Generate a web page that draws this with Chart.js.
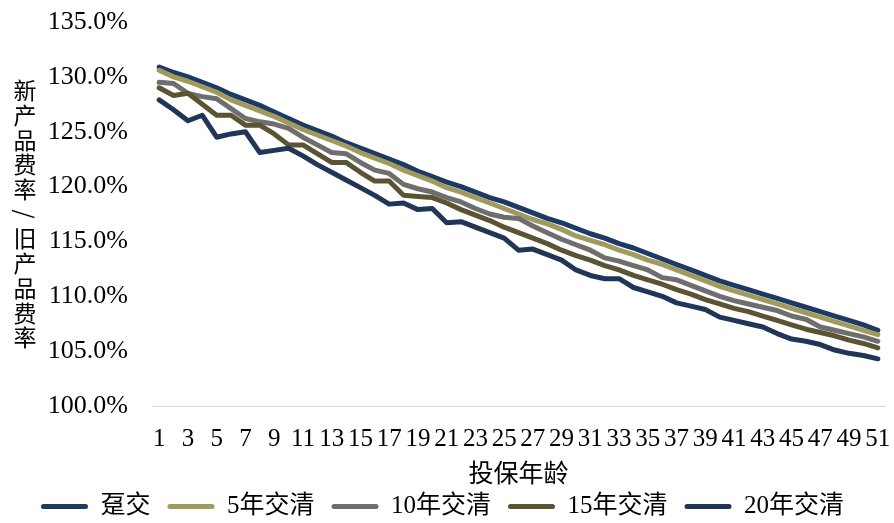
<!DOCTYPE html>
<html>
<head>
<meta charset="utf-8">
<script src="https://cdn.jsdelivr.net/npm/chart.js@4.4.1/dist/chart.umd.min.js"></script>
<style>
  html, body { margin: 0; padding: 0; background: #fff; }
</style>
</head>
<body>
<canvas id="chart" width="894" height="523"></canvas>
<script>
const ages = [1,2,3,4,5,6,7,8,9,10,11,12,13,14,15,16,17,18,19,20,21,22,23,24,25,26,27,28,29,30,
  31,32,33,34,35,36,37,38,39,40,41,42,43,44,45,46,47,48,49,50,51];

const seriesNames = ['趸交', '5年交清', '10年交清', '15年交清', '20年交清'];

const lumpSum = [130.9,130.4,130.0,129.5,129.0,128.4,127.9,127.4,126.8,126.2,
  125.6,125.1,124.6,124.0,123.5,123.0,122.5,122.0,121.4,120.9,
  120.4,120.0,119.5,119.0,118.6,118.1,117.6,117.1,116.7,116.2,
  115.7,115.3,114.8,114.4,113.9,113.4,112.9,112.4,111.9,111.4,
  111.0,110.6,110.2,109.8,109.4,109.0,108.6,108.2,107.8,107.4,106.9];
const pay5 = [130.6,130.0,129.6,129.1,128.6,127.9,127.4,126.9,126.4,125.8,
  125.2,124.7,124.2,123.7,123.1,122.6,122.1,121.5,121.0,120.5,
  119.9,119.5,119.0,118.5,118.0,117.5,117.0,116.6,116.1,115.5,
  115.1,114.7,114.2,113.8,113.3,112.9,112.4,111.9,111.4,110.9,
  110.5,110.1,109.7,109.3,108.9,108.5,108.1,107.7,107.3,106.9,106.5];
const pay10 = [129.5,129.4,128.5,128.2,128.0,127.1,126.2,125.9,125.7,125.3,
  124.5,123.8,123.1,123.0,122.2,121.5,121.2,120.2,119.8,119.5,
  119.0,118.6,118.0,117.5,117.2,117.1,116.4,115.8,115.2,114.7,
  114.2,113.5,113.2,112.8,112.4,111.7,111.5,111.0,110.5,110.0,
  109.6,109.3,109.0,108.7,108.2,107.9,107.2,106.9,106.6,106.3,105.9];
const pay15 = [129.0,128.3,128.5,127.5,126.5,126.5,125.6,125.6,124.8,123.8,
  123.8,123.0,122.2,122.2,121.3,120.5,120.5,119.2,119.1,119.0,
  118.5,117.9,117.4,116.9,116.3,115.8,115.3,114.8,114.2,113.7,
  113.3,112.8,112.4,111.9,111.5,111.1,110.6,110.2,109.7,109.3,
  108.9,108.6,108.2,107.8,107.4,107.0,106.7,106.4,106.0,105.7,105.3];
const pay20 = [127.9,127.0,126.0,126.5,124.5,124.8,125.0,123.1,123.3,123.5,
  122.8,122.0,121.3,120.6,119.9,119.2,118.4,118.5,117.9,118.0,
  116.7,116.8,116.3,115.8,115.3,114.2,114.3,113.8,113.3,112.4,
  111.9,111.6,111.6,110.8,110.4,110.0,109.4,109.1,108.8,108.1,
  107.8,107.5,107.2,106.6,106.1,105.9,105.6,105.1,104.8,104.6,104.3];

const colors = ['#1c3a63', '#a09a5c', '#6e6e6e', '#5a5432', '#213557'];
const yMin = 100, yMax = 135, yStep = 5;
const yAxisTitle = '新产品费率/旧产品费率';
const xAxisTitle = '投保年龄';

const FONT = "'Liberation Serif', 'Noto Sans CJK SC', serif";

// vertical, stacked y-axis title
const yTitlePlugin = {
  id: 'yTitle',
  afterDraw(chart) {
    const ctx = chart.ctx;
    const area = chart.chartArea;
    const chars = Array.from(yAxisTitle);
    const step = 24.7;
    const mid = (area.top + area.bottom) / 2;
    const y0 = mid - step * (chars.length - 1) / 2;
    ctx.save();
    ctx.font = "23px 'Noto Sans CJK SC'";
    ctx.fillStyle = '#000';
    ctx.textAlign = 'center';
    ctx.textBaseline = 'middle';
    chars.forEach((ch, i) => {
      const y = y0 + i * step;
      if (ch === '/') {
        ctx.save();
        ctx.translate(25, y);
        ctx.rotate(Math.PI / 2);
        ctx.fillText(ch, 0, 0);
        ctx.restore();
      } else {
        ctx.fillText(ch, 25, y);
      }
    });
    ctx.restore();
  }
};

const allSeries = [lumpSum, pay5, pay10, pay15, pay20];

new Chart(document.getElementById('chart'), {
  type: 'line',
  data: {
    labels: ages,
    datasets: allSeries.map((vals, i) => ({
      label: seriesNames[i],
      data: vals,
      borderColor: colors[i],
      backgroundColor: colors[i],
      borderWidth: 5,
      borderCapStyle: 'round',
      borderJoinStyle: 'round',
      pointRadius: 0,
      tension: 0,
      order: allSeries.length - i
    }))
  },
  options: {
    responsive: false,
    animation: false,
    layout: { padding: { top: 22, right: 9, left: 0, bottom: -6 } },
    plugins: {
      tooltip: { enabled: false },
      legend: {
        position: 'bottom',
        labels: {
          font: { family: FONT, size: 25 },
          color: '#000',
          boxWidth: 47,
          boxHeight: 5,
          padding: 17,
          useBorderRadius: true,
          borderRadius: 2.5,
          sort: (a, b) => a.datasetIndex - b.datasetIndex,
          generateLabels(chart) {
            return Chart.defaults.plugins.legend.labels.generateLabels(chart).map(l => {
              l.fillStyle = l.strokeStyle;
              l.lineWidth = 0;
              return l;
            });
          }
        }
      }
    },
    scales: {
      x: {
        offset: true,
        grid: { display: false, drawTicks: false },
        border: { display: true, color: '#d9d9d9', width: 1 },
        ticks: {
          autoSkip: false,
          maxRotation: 0,
          minRotation: 0,
          padding: 18,
          color: '#000',
          font: { family: FONT, size: 25 },
          callback: (v, i) => (i % 2 === 0 ? String(ages[i]) : '')
        },
        title: {
          display: true,
          text: xAxisTitle,
          color: '#000',
          font: { family: FONT, size: 25 },
          padding: { top: 0, bottom: -13 }
        },
        afterFit(scale) {
          scale.height = 71;
          scale.paddingLeft = 0;
          scale.paddingRight = 0;
        }
      },
      y: {
        min: yMin,
        max: yMax,
        grid: { display: false, drawTicks: false },
        border: { display: false },
        ticks: {
          stepSize: yStep,
          padding: 24,
          color: '#000',
          font: { family: FONT, size: 26 },
          callback: v => v.toFixed(1) + '%'
        },
        afterFit(scale) {
          scale.width = 152;
          scale.paddingTop = 0;
          scale.paddingBottom = 0;
        }
      }
    }
  },
  plugins: [yTitlePlugin]
});
</script>
</body>
</html>
